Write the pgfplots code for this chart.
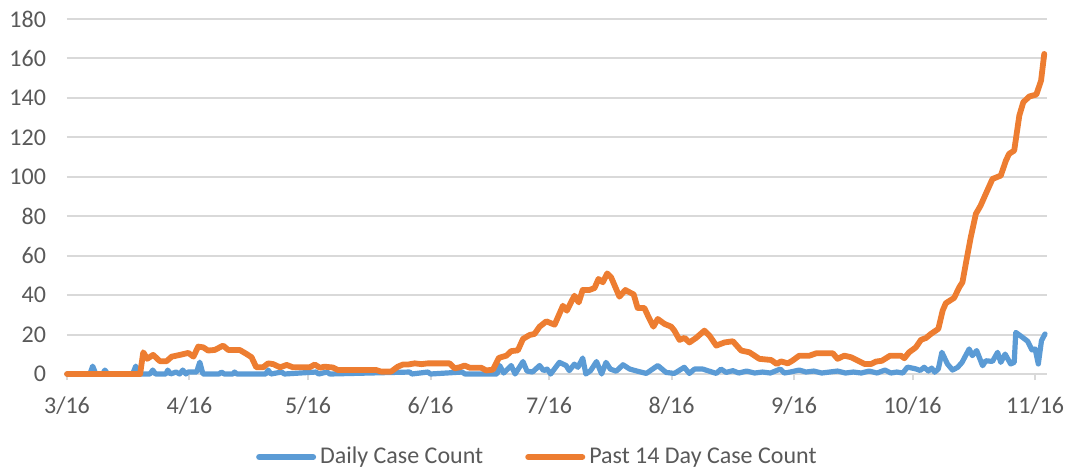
\documentclass[border=0pt]{standalone}
\usepackage{pgfplots}
\pgfplotsset{compat=1.18}
\usepackage{fontspec}
\setmainfont{Carlito}
\definecolor{cblue}{HTML}{5B9BD5}
\definecolor{corange}{HTML}{ED7D31}
\definecolor{gridgray}{HTML}{D9D9D9}
\definecolor{txtgray}{HTML}{595959}
\begin{document}
\begin{tikzpicture}
\begin{axis}[
  at={(0,0)}, anchor=south west,
  scale only axis, width=490pt, height=177.5pt,
  xmin=0, xmax=248, ymin=0, ymax=180,
  ytick={0,20,...,180},
  xtick={0,31,61,92,122,153,184,214,245},
  xticklabels={3/16,4/16,5/16,6/16,7/16,8/16,9/16,10/16,11/16},
  axis x line*=bottom, axis y line*=left,
  x axis line style={gridgray, line width=1pt, -},
  y axis line style={draw=none},
  ytick style={draw=none},
  xtick style={gridgray, line width=1pt},
  tick align=outside, major tick length=3pt,
  ymajorgrids, major grid style={gridgray, line width=1pt},
  /pgf/number format/assume math mode=true,
  ticklabel style={font=\fontsize{12}{14}\selectfont, text=txtgray},
  yticklabel style={xshift=-4pt},
  xticklabel style={yshift=-5pt},
  clip=false,
  legend style={at={(0.481,-0.234)}, anchor=center, draw=none, fill=none,
    font=\fontsize{12}{14}\selectfont, text=txtgray, legend columns=2,
    nodes={inner xsep=2pt},
    /tikz/every even column/.append style={column sep=19pt}},
  legend image code/.code={\draw[line width=3pt] (0pt,0pt) -- (27pt,0pt);},
]
\addplot[cblue, line width=2.6pt, line join=round, line cap=round] coordinates {
(0,0) (5.8,0) (6.5,4) (7.3,0) (9,0) (9.6,2) (10.3,0) (16.6,0) (17.4,4) (18.3,0)
(21,0) (21.7,2) (22.4,0) (25,0) (25.5,2) (26.2,0) (27.6,1) (28.5,0) (29.3,2) (30.1,0)
(30.6,1) (32.8,1) (33.6,6) (34.4,0) (38.5,0) (39.1,1) (39.8,0) (42,0) (42.4,1) (43,0)
(50.3,0) (50.9,2) (51.6,0) (54.3,1) (55,0) (63,1) (63.7,0) (65.8,1) (66.5,0) (86.7,1)
(87.3,0) (91.3,1) (92,0) (100,1) (100.7,0) (108.8,0) (109.5,4.3) (110.5,0.5) (112.4,4.3) (113.4,0)
(115.4,6.3) (116.4,1.5) (117.8,1) (119.6,4.3) (120.6,1.7) (121.5,2.5) (122.4,0) (124.6,5.9) (126.3,4.3) (127.1,1.7)
(128.4,5) (129.3,3.4) (130.5,8.1) (131.3,0) (132.5,1.7) (134,6.3) (135.3,0) (136.4,5.9) (137.5,2.5) (139,1.4)
(140.7,4.7) (142.4,2.5) (144.4,1.4) (146.6,0.3) (149.5,4.3) (151.6,0.8) (153.7,0.3) (156.2,3.4) (157.5,0.3) (158.8,2.5)
(160.9,2.5) (162.6,1.4) (164.3,0.3) (165.5,2.5) (166.8,0.8) (168.5,1.7) (170,0.5) (172,1.5) (174,0.5) (176,1)
(178,0.5) (180.5,2.5) (181.5,0.5) (183,1) (185.3,2) (187,1) (189,1.5) (191,0.5) (193,1) (195,1.5)
(197,0.5) (199,1) (201,0.5) (203,1.5) (205,0.5) (207,2) (208.5,0.5) (210,1) (211.5,0.5) (212.7,3.5)
(214.8,2.6) (215.9,1.8) (216.9,3.4) (218,1.5) (218.8,3) (219.6,0.9) (220.5,2.6) (221.4,11) (222.8,5.1) (224.1,2)
(225.4,3.4) (226.5,5.9) (228.3,12.7) (229.1,9.3) (230.2,11.9) (231.7,4.2) (232.5,6.7) (234.2,6.4) (235.5,11) (236.3,5.9)
(237.4,10.1) (238.8,5.1) (239.7,5.9) (240.1,21.1) (241.8,18.6) (243.1,16.6) (244.2,12.2) (245,12.7) (245.8,5.1) (246.6,16.9)
(247.5,20.3)
};
\addlegendentry{Daily Case Count}
\addplot[corange, line width=2.9pt, line join=round, line cap=round] coordinates {
(0,0) (18.5,0) (19.3,11) (20.3,7.7) (21.8,9.7) (23.5,6.5) (25.2,6.5) (26.5,8.8) (28.6,9.7) (30.7,10.7)
(32,8.8) (33.2,13.9) (34.5,13.5) (35.7,11.9) (37.4,12.2) (39.5,14.4) (40.8,12.2) (43.7,12.2) (45.4,10.2) (46.7,8.5)
(47.9,3.4) (49.6,3.4) (50.9,5.4) (52.2,5) (53.9,3.4) (55.6,4.6) (57.2,3.4) (61.4,3.4) (62.7,4.8) (64,3.2)
(65.2,3.7) (67.3,3.3) (68.6,2) (78.3,2) (79.5,1.2) (82,1.2) (83.7,3.7) (85,4.8) (86.3,4.8) (88,5.4)
(89.7,5.0) (91.3,5.4) (96.8,5.4) (98.1,2.9) (99.4,3.4) (100.6,4.3) (101.9,3.2) (104.8,3.2) (106.1,1.8) (107.8,2.2)
(109.3,8.2) (111.2,9.3) (112.4,11.6) (114.1,12) (115.4,17.8) (117.1,19.8) (118.3,20.3) (119.6,24) (121.3,26.7) (123.4,25)
(125.5,34.6) (126.5,32.1) (128.4,39.7) (129.5,36.3) (130.5,42.6) (132.2,42.6) (133.5,43.6) (134.5,48.2) (135.6,46.5) (136.7,51)
(137.7,49) (139.8,39.2) (141.3,42.6) (142.4,41.4) (143.4,40.4) (144.4,33.5) (146.1,33.5) (147,29.6) (148.4,24) (149.5,27.9)
(151.2,25.4) (152.9,24) (153.7,22) (155,17.3) (156.3,18.3) (157.5,16) (159.2,18.3) (161.3,22) (162.6,19.4) (164.3,14.4)
(166.4,16) (168.5,16.6) (170.6,11.9) (172.7,11) (175.2,7.7) (178.2,7.1) (179.6,5.1) (180.7,6.4) (182.4,5.4) (183.6,6.8)
(185.3,9.3) (187.9,9.3) (189.6,10.5) (193.8,10.5) (195,7.7) (196.7,9.3) (198.4,8.5) (201.8,5.1) (203.5,5.1) (204.7,6.3)
(206.2,6.7) (208.3,9.3) (211,9.3) (211.9,8) (213.1,11) (214.8,13.5) (216.1,17.3) (217.4,18.3) (218.6,20.3) (220.5,22.9)
(221.6,32.2) (222.4,35.9) (224.5,38.6) (225.8,44) (226.6,46.5) (227.6,57.5) (228.7,69.3) (230,81.2) (231.2,85.4) (232.5,91.3)
(234.2,98.9) (236.3,100.6) (237.6,108.2) (238.4,111.6) (239.7,113.3) (241,131.1) (242,137.8) (243.5,140.7) (245.3,141.7) (246.5,148.8)
(247.3,162.3)
};
\addlegendentry{Past 14 Day Case Count}
\end{axis}
\pgfresetboundingbox
\path (-33.5pt,-49pt) rectangle (501.5pt,187pt);
\end{tikzpicture}
\end{document}
